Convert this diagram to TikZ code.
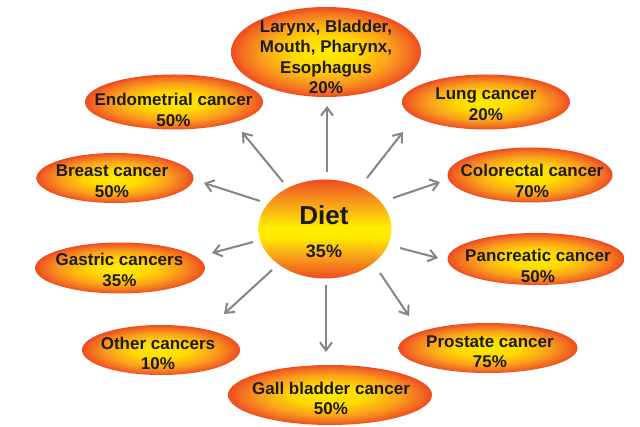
\documentclass[tikz,border=0pt]{standalone}
\usepackage{fontspec}
\setmainfont{Liberation Sans}
\usetikzlibrary{shapes.geometric,arrows.meta}
\definecolor{arrowgray}{HTML}{858585}
\definecolor{txt}{HTML}{1E1A1A}
\definecolor{cyel}{HTML}{FFEC00}
\definecolor{cyel2}{HTML}{FFD800}
\definecolor{corg}{HTML}{F9A01B}
\definecolor{corg2}{HTML}{F36A22}
\definecolor{cred}{HTML}{EE4A1F}
\pgfdeclareradialshading{blobshade}{\pgfpoint{0bp}{0bp}}{%
color(0bp)=(cyel); color(9bp)=(cyel2); color(17bp)=(corg); color(22.5bp)=(corg2); color(25bp)=(cred); color(50bp)=(cred)}
\pgfdeclareverticalshading{dietshade}{100bp}{%
color(0bp)=(cred); color(25bp)=(cred); color(36bp)=(corg); color(46bp)=(cyel); color(51bp)=(cyel); color(63bp)=(corg); color(75bp)=(cred); color(100bp)=(cred)}
\tikzset{
  blob/.style={ellipse, inner sep=0pt, shade, shading=blobshade},
  dietblob/.style={ellipse, inner sep=0pt, shade, shading=dietshade},
  lbl/.style={font=\fontsize{17}{20.5}\selectfont\bfseries, text=txt, align=center, inner sep=0pt},
  arr/.style={draw=arrowgray, line width=2pt, -{Straight Barb[length=8pt,width=12pt]}}
}
\begin{document}
\begin{tikzpicture}[x=1pt,y=-1pt]
\useasboundingbox (0,0) rectangle (640,427);
\fill[white] (0,0) rectangle (640,427);
% ellipses
\node[blob, minimum width=190pt, minimum height=90pt] (lar) at (326,52) {};
\node[blob, minimum width=178pt, minimum height=55pt] (endo) at (174,102) {};
\node[blob, minimum width=168pt, minimum height=55pt] (lung) at (486,102) {};
\node[blob, minimum width=165pt, minimum height=55pt] (colo) at (530,175) {};
\node[blob, minimum width=157pt, minimum height=50pt] (breast) at (115,178) {};
\node[blob, minimum width=170pt, minimum height=51pt] (gast) at (120,268) {};
\node[blob, minimum width=177pt, minimum height=52pt] (panc) at (536,259) {};
\node[blob, minimum width=179pt, minimum height=50pt] (prost) at (488,348) {};
\node[blob, minimum width=158pt, minimum height=50pt] (other) at (161,350) {};
\node[blob, minimum width=204pt, minimum height=60pt] (gall) at (330,395) {};
\node[dietblob, minimum width=133pt, minimum height=99pt] (diet) at (325,229) {};
% labels
\node[lbl] (larT) at (326,57) {Larynx, Bladder,\\Mouth, Pharynx,\\Esophagus\\20\%};
\node[lbl] (endoT) at (173.5,110) {Endometrial cancer\\50\%};
\node[lbl] (lungT) at (486,104) {Lung cancer\\20\%};
\node[lbl] (coloT) at (532,181) {Colorectal cancer\\70\%};
\node[lbl] (breastT) at (112,181) {Breast cancer\\50\%};
\node[lbl] (gastT) at (119.5,270) {Gastric cancers\\35\%};
\node[lbl] (pancT) at (538,266) {Pancreatic cancer\\50\%};
\node[lbl] (prostT) at (490,351.5) {Prostate cancer\\75\%};
\node[lbl] (otherT) at (158,353.5) {Other cancers\\10\%};
\node[lbl] (gallT) at (331,398.5) {Gall bladder cancer\\50\%};
\node[font=\fontsize{26}{30}\selectfont\bfseries, text=txt, inner sep=0pt, anchor=base] (dietT) at (324,225) {Diet};
\node[font=\fontsize{18}{22}\selectfont\bfseries, text=txt, inner sep=0pt, anchor=base] (dietP) at (324,258) {35\%};
% arrow end points
\coordinate (s1) at (327,172); \coordinate (h1) at (327,106);
\coordinate (s2) at (367,178); \coordinate (h2) at (403,132);
\coordinate (s3) at (393,198); \coordinate (h3) at (440,182);
\coordinate (s4) at (400,248); \coordinate (h4) at (438,258);
\coordinate (s5) at (380,273); \coordinate (h5) at (409,316);
\coordinate (s6) at (326,285); \coordinate (h6) at (326,352);
\coordinate (s7) at (272,270); \coordinate (h7) at (224,314);
\coordinate (s8) at (253,242); \coordinate (h8) at (212,253);
\coordinate (s9) at (260,201); \coordinate (h9) at (204,183);
\coordinate (s10) at (283,182); \coordinate (h10) at (242,132);
\foreach \i in {1,...,10} { \draw[arr] (s\i) -- (h\i); }
\end{tikzpicture}
\end{document}
